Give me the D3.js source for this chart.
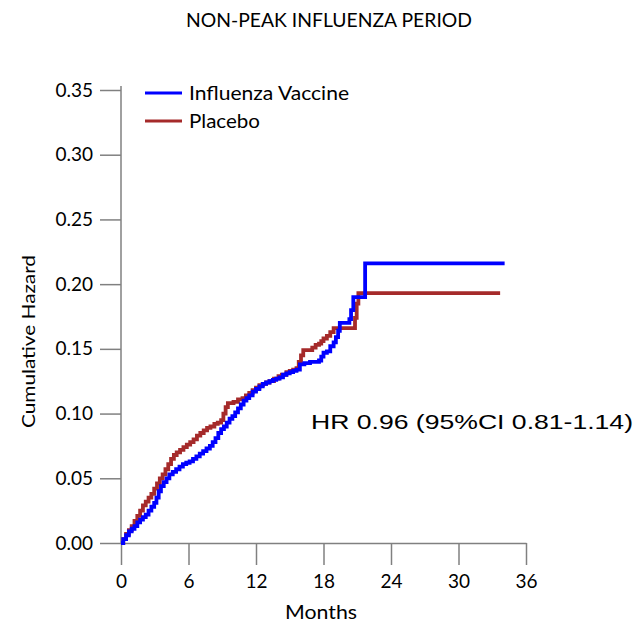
<!DOCTYPE html>
<html>
<head>
<meta charset="utf-8">
<script src="https://cdn.jsdelivr.net/npm/d3@7"></script>
<style>
  body { margin: 0; background: #fff; }
  svg { display: block; }
</style>
</head>
<body>
<svg id="chart" width="641" height="627"></svg>
<script>
const title = "NON-PEAK INFLUENZA PERIOD";
const xTicks = [0, 6, 12, 18, 24, 30, 36];
const yTicks = [0.00, 0.05, 0.10, 0.15, 0.20, 0.25, 0.30, 0.35];
const seriesNames = ["Influenza Vaccine", "Placebo"];
const seriesColors = ["#0000ff", "#a52a2a"];

const vaccineMonths = [0, 0.2, 0.45, 0.7, 0.95, 1.2, 1.45, 1.7, 1.95, 2.2, 2.45, 2.7, 2.95, 3.15, 3.35, 3.55, 3.8, 4.05, 4.3, 4.6, 4.9, 5.2, 5.5, 5.8, 6.1, 6.4, 6.7, 7.0, 7.3, 7.6, 7.9, 8.15, 8.4, 8.65, 8.9, 9.15, 9.4, 9.65, 9.9, 10.15, 10.4, 10.65, 10.9, 11.15, 11.4, 11.7, 12.0, 12.3, 12.6, 12.9, 13.2, 13.5, 13.8, 14.1, 14.4, 14.7, 15.0, 15.3, 15.6, 15.9, 16.3, 16.8, 17.6, 17.8, 18.0, 18.3, 18.6, 18.9, 19.1, 19.3, 19.45, 20.3, 20.45, 20.65, 21.7, 34.1];
const vaccineHazard = [0, 0.003, 0.006, 0.009, 0.011, 0.013, 0.016, 0.018, 0.020, 0.022, 0.025, 0.028, 0.031, 0.035, 0.040, 0.044, 0.047, 0.050, 0.053, 0.055, 0.057, 0.059, 0.061, 0.062, 0.063, 0.065, 0.067, 0.069, 0.071, 0.073, 0.075, 0.078, 0.081, 0.085, 0.088, 0.090, 0.093, 0.096, 0.098, 0.101, 0.104, 0.107, 0.110, 0.112, 0.114, 0.117, 0.119, 0.121, 0.123, 0.124, 0.125, 0.126, 0.127, 0.128, 0.130, 0.131, 0.132, 0.133, 0.134, 0.138, 0.139, 0.140, 0.141, 0.144, 0.147, 0.148, 0.152, 0.155, 0.159, 0.164, 0.170, 0.173, 0.180, 0.190, 0.216, 0.216];

const placeboMonths = [0, 0.2, 0.45, 0.7, 0.95, 1.2, 1.45, 1.7, 1.95, 2.2, 2.45, 2.7, 2.95, 3.2, 3.45, 3.7, 3.95, 4.2, 4.45, 4.7, 4.95, 5.25, 5.55, 5.85, 6.15, 6.45, 6.75, 7.05, 7.35, 7.65, 7.95, 8.3, 8.6, 8.9, 9.1, 9.3, 9.5, 10.0, 10.4, 10.8, 11.1, 11.4, 11.7, 12.0, 12.3, 12.6, 12.9, 13.2, 13.6, 14.0, 14.3, 14.7, 15.0, 15.3, 15.6, 15.8, 16.0, 16.2, 17.0, 17.3, 17.6, 17.8, 18.0, 18.3, 18.6, 18.9, 20.8, 20.95, 21.1, 33.7];
const placeboHazard = [0, 0.003, 0.007, 0.010, 0.013, 0.017, 0.021, 0.025, 0.029, 0.032, 0.035, 0.038, 0.042, 0.046, 0.050, 0.053, 0.057, 0.061, 0.065, 0.068, 0.070, 0.072, 0.074, 0.076, 0.078, 0.080, 0.083, 0.085, 0.087, 0.089, 0.090, 0.092, 0.093, 0.095, 0.100, 0.105, 0.108, 0.109, 0.111, 0.112, 0.114, 0.116, 0.118, 0.120, 0.122, 0.123, 0.124, 0.125, 0.127, 0.129, 0.130, 0.132, 0.133, 0.134, 0.135, 0.140, 0.145, 0.149, 0.151, 0.153, 0.154, 0.156, 0.158, 0.160, 0.163, 0.166, 0.174, 0.185, 0.193, 0.193];

const hrText = "HR 0.96 (95%CI 0.81-1.14)";

const svg = d3.select("#chart");
const font = "Lato, 'Open Sans', sans-serif";

const x = d3.scaleLinear().domain([0, 36]).range([121, 526]);
const y = d3.scaleLinear().domain([0, 0.35]).range([543, 90]);

// Title
svg.append("text").attr("x", 186).attr("y", 27)
  .attr("font-family", font).attr("font-size", 18.5).attr("fill", "#000")
  .attr("textLength", 286).attr("lengthAdjust", "spacingAndGlyphs").text(title);

// X axis
const xAxis = svg.append("g").attr("transform", `translate(0,${y(0)})`)
  .call(d3.axisBottom(x).tickValues(xTicks).tickSize(22).tickPadding(10).tickSizeOuter(0));
xAxis.select(".domain").attr("stroke", "#808080").attr("stroke-width", 1.5);
xAxis.selectAll(".tick line").attr("stroke", "#808080").attr("stroke-width", 1.5);
xAxis.selectAll(".tick text").attr("font-family", font).attr("font-size", 19).attr("fill", "#000");

// Y axis
const yAxis = svg.append("g").attr("transform", `translate(${x(0)},0)`)
  .call(d3.axisLeft(y).tickValues(yTicks).tickFormat(d3.format(".2f")).tickSize(21).tickPadding(7).tickSizeOuter(0));
yAxis.select(".domain").attr("stroke", "#808080").attr("stroke-width", 1.5)
  .attr("d", `M0,${y(0)}V${y(0.35) - 4}`);
yAxis.selectAll(".tick line").attr("stroke", "#808080").attr("stroke-width", 1.5);
yAxis.selectAll(".tick text").attr("font-family", font).attr("font-size", 19).attr("fill", "#000");

// Axis titles
svg.append("text").attr("x", 285).attr("y", 619)
  .attr("font-family", font).attr("font-size", 19).attr("fill", "#000")
  .attr("textLength", 72).attr("lengthAdjust", "spacingAndGlyphs").text("Months");
svg.append("text").attr("transform", "translate(35,428) rotate(-90)")
  .attr("font-family", font).attr("font-size", 17).attr("fill", "#000")
  .attr("textLength", 173).attr("lengthAdjust", "spacingAndGlyphs").text("Cumulative Hazard");

// Lines
const line = d3.line().x(d => x(d[0])).y(d => y(d[1])).curve(d3.curveStepAfter);
const placeboData = placeboMonths.map((m, i) => [m, placeboHazard[i]]);
const vaccineData = vaccineMonths.map((m, i) => [m, vaccineHazard[i]]);

svg.append("path").datum(placeboData).attr("d", line).attr("fill", "none")
  .attr("stroke", seriesColors[1]).attr("stroke-width", 3.8);
svg.append("path").datum(vaccineData).attr("d", line).attr("fill", "none")
  .attr("stroke", seriesColors[0]).attr("stroke-width", 3.8);

// Legend
const legend = svg.append("g");
const legendLen = [160, 71];
seriesNames.forEach((name, i) => {
  const ly = 93 + i * 28;
  legend.append("line").attr("x1", 145).attr("x2", 182).attr("y1", ly).attr("y2", ly)
    .attr("stroke", seriesColors[i]).attr("stroke-width", 3);
  legend.append("text").attr("x", 189).attr("y", ly + 7)
    .attr("font-family", font).attr("font-size", 19.5).attr("fill", "#000")
    .attr("textLength", legendLen[i]).attr("lengthAdjust", "spacingAndGlyphs").text(name);
});

// HR annotation
svg.append("text").attr("x", 311).attr("y", 429)
  .attr("font-family", "'Liberation Sans', Arial, sans-serif").attr("font-size", 21)
  .attr("fill", "#000").attr("textLength", 322).attr("lengthAdjust", "spacingAndGlyphs")
  .text(hrText);
</script>
</body>
</html>
